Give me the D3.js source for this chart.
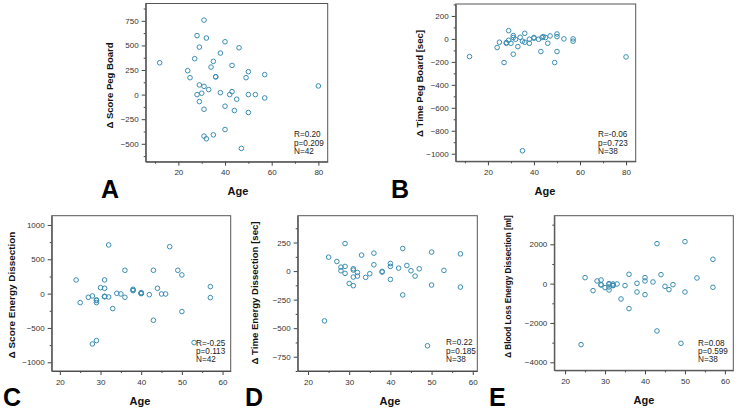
<!DOCTYPE html>
<html><head><meta charset="utf-8">
<script src="https://cdn.jsdelivr.net/npm/d3@7/dist/d3.min.js"></script>
<style>body{margin:0;background:#fff;} svg{display:block;}</style>
</head><body>
<svg id="c" width="742" height="414"></svg>
<script>
// Panel A: Δ Score Peg Board vs Age
const ageA = [31,28,32,40,29,46,38,12,27,35,34,43,24,50,57,25,36,36,49,29,31,33,38,43,42,28,30,50,53,45,57,80,29,40,31,44,50,40,31,32,35,47];
const scoreA = [757,600,575,537,483,476,422,324,365,338,280,297,243,233,203,172,182,180,172,98,84,51,20,30,0,0,14,0,0,-47,-34,88,-71,-118,-149,-162,-182,-355,-422,-449,-409,-547];
// Panel B: Δ Time Peg Board [sec] vs Age
const ageB = [12,29,36,31,31,32,29,28,25,24,27,31,33,30,28,34,35,36,38,38,40,40,42,43.5,44,45,46,47,43,49,50,50,50,53,57,57,80,35];
const timeB = [-154,72,49,29,12,-3,-12,-32,-29,-75,-206,-133,-67,-38,-38,14,-20,-29,-38,-3,6,12,-3,12,20,12,-38,26,-110,-206,-110,43,20,0,0,-20,-157,-974];
// Panel C: Δ Score Energy Dissection vs Age
const ageC = [24,25,27,28,29,29,28,29,30,31,31,31,31,32,32,33,34,35,36,36,38,38,40,40,40,42,43,43,44,45,46,47,49,50,50,53,57,57,40,31,38,29];
const scoreC = [199,-131,-53,-34,-92,-131,-733,-684,87,78,199,-39,-44,-49,709,-218,5,-5,-53,340,63,44,5,0,15,-15,340,-388,78,-5,-5,684,340,272,-262,-713,102,-58,5,-44,50,-100];
// Panel D: Δ Time Energy Dissection [sec] vs Age
const ageD = [25,27,28,28,29,29,29,30,31,31,31,31,32,32,33,34,35,36,36,38,38,40,40,40,42,43,43,44,45,46,47,49,50,50,53,57,57,24];
const timeD = [122,84,35,3,241,41,-20,-108,20,9,-52,-128,-12,-44,140,-55,-23,157,55,-3,-9,67,41,-73,26,198,-209,49,3,-44,20,-654,166,-122,6,151,-140,-436];
// Panel E: Δ Blood Loss Energy Dissection [ml] vs Age
const ageE = [24,25,27,28,29,29,30,31,31,31,32,32,33,35,34,36,36,38,38,40,40,40,42,43,43,44,45,46,47,49,50,50,53,57,57,29,31,32];
const bloodE = [-3102,305,-356,136,186,-68,-203,0,-322,-170,-17,-100,-17,-100,-780,475,-1271,17,-424,305,136,-560,85,2034,-2407,458,-136,-305,-51,-3034,2136,-424,288,1237,-186,-50,-30,-80];

const stats = {A:["R=0.20","p=0.209","N=42"],B:["R=-0.06","p=0.723","N=38"],C:["R=-0.25","p=0.113","N=42"],D:["R=0.22","p=0.185","N=38"],E:["R=0.08","p=0.599","N=38"]};
const xTicksAB = [20,40,60,80];
const xTicksCDE = [20,30,40,50,60];
const yTicksA = [-500,-250,0,250,500,750];
const yTicksB = [-1000,-800,-600,-400,-200,0,200];
const yTicksC = [-1000,-500,0,500,1000];
const yTicksD = [-750,-500,-250,0,250];
const yTicksE = [-4000,-2000,0,2000];

const panels = [
 {id:"A", xs:ageA, ys:scoreA, box:[145.7,3.5,327.7,161.7], xd:[6,84], yd:[-682,926], xt:xTicksAB, xm:10, yt:yTicksA, ym:125, ytitle:"\u0394 Score Peg Board", ytx:110.5, yty:85.5, ylen:86, agex:238, agey:195, letter:[101,198], stat:[294,135]},
 {id:"B", xs:ageB, ys:timeB, box:[455.7,4,635.7,161.3], xd:[6,84.2], yd:[-1066,304], xt:xTicksAB, xm:10, yt:yTicksB, ym:100, ytitle:"\u0394 Time Peg Board [sec]", ytx:420, yty:83.5, ylen:107, agex:545, agey:195, letter:[391,198], stat:[598,135]},
 {id:"C", xs:ageC, ys:scoreC, box:[51.7,215.7,230.7,371], xd:[18,62], yd:[-1127,1135], xt:xTicksCDE, xm:5, yt:yTicksC, ym:250, ytitle:"\u0394 Score Energy Dissection", ytx:12.5, yty:295, ylen:127, agex:140, agey:405, letter:[3,406], stat:[196,343.5]},
 {id:"D", xs:ageD, ys:timeD, box:[297.7,215.7,477.3,371], xd:[17.5,61.1], yd:[-875,485], xt:xTicksCDE, xm:5, yt:yTicksD, ym:125, ytitle:"\u0394 Time Energy Dissection [sec]", ytx:255, yty:293, ylen:143, agex:390, agey:405, letter:[245,406], stat:[446,343]},
 {id:"E", xs:ageE, ys:bloodE, box:[554.3,215.7,733.3,370.3], xd:[17.3,62.1], yd:[-4407,3455], xt:xTicksCDE, xm:5, yt:yTicksE, ym:1000, ytitle:"\u0394 Blood Loss Energy Dissection [ml]", ytx:509, yty:286.5, ylen:143, agex:644, agey:404, letter:[489,406], stat:[698,343.5]}
];

const svg = d3.select("#c");
const font = "Liberation Sans, Arial, sans-serif";
const fmt = d3.format("d");

panels.forEach(p => {
  const [x0,y0,x1,y1] = p.box;
  const x = d3.scaleLinear().domain(p.xd).range([x0,x1]);
  const y = d3.scaleLinear().domain(p.yd).range([y1,y0]);
  const g = svg.append("g");

  const xMinor = d3.range(Math.ceil(p.xd[0]/p.xm)*p.xm, p.xd[1]+0.001, p.xm).filter(v => !p.xt.includes(v));
  const yMinor = d3.range(Math.ceil(p.yd[0]/p.ym)*p.ym, p.yd[1]+0.001, p.ym).filter(v => !p.yt.includes(v));

  g.append("g").attr("transform",`translate(0,${y1})`)
    .call(d3.axisBottom(x).tickValues(p.xt).tickFormat(fmt).tickSize(4).tickPadding(4).tickSizeOuter(0));
  g.append("g").attr("transform",`translate(0,${y1})`)
    .call(d3.axisBottom(x).tickValues(xMinor).tickSize(2).tickFormat("").tickSizeOuter(0))
    .call(s=>s.select(".domain").remove());
  g.append("g").attr("transform",`translate(${x0},0)`)
    .call(d3.axisLeft(y).tickValues(p.yt).tickFormat(fmt).tickSize(4).tickPadding(3).tickSizeOuter(0));
  g.append("g").attr("transform",`translate(${x0},0)`)
    .call(d3.axisLeft(y).tickValues(yMinor).tickSize(2).tickFormat("").tickSizeOuter(0))
    .call(s=>s.select(".domain").remove());

  g.selectAll(".tick line").attr("stroke","#444");
  g.selectAll(".domain").attr("stroke","#444");
  g.selectAll(".tick text").attr("font-family",font).attr("font-size","8px").attr("fill","#333");

  g.append("rect").attr("x",x0).attr("y",y0).attr("width",x1-x0).attr("height",y1-y0)
    .attr("fill","none").attr("stroke","#555").attr("stroke-width",1);

  g.selectAll("circle.pt").data(p.xs.map((v,i)=>[v,p.ys[i]])).join("circle")
    .attr("class","pt").attr("cx",d=>x(d[0])).attr("cy",d=>y(d[1])).attr("r",2.3)
    .attr("fill","none").attr("stroke","#3a8db3").attr("stroke-width",1);

  stats[p.id].forEach((t,i)=>{
    g.append("text").attr("x",p.stat[0]).attr("y",p.stat[1]+i*8.4).attr("font-family",font)
      .attr("font-size","8.2px").attr("fill","#222").attr("dominant-baseline","middle").text(t);
  });

  g.append("text").attr("x",p.agex).attr("y",p.agey).attr("text-anchor","middle")
    .attr("font-family",font).attr("font-weight","bold").attr("font-size","11px").attr("fill","#111").text("Age");
  const yt = g.append("text").attr("transform",`translate(${p.ytx},${p.yty}) rotate(-90)`).attr("text-anchor","middle")
    .attr("dominant-baseline","middle").attr("font-family",font).attr("font-weight","bold").attr("font-size","10px").attr("fill","#111").text(p.ytitle);
  const len = yt.node().getComputedTextLength();
  yt.attr("font-size", (10*p.ylen/len).toFixed(2)+"px");

  g.append("text").attr("x",p.letter[0]).attr("y",p.letter[1]).attr("font-family",font)
    .attr("font-weight","bold").attr("font-size","25px").attr("fill","#000").text(p.id);
});
</script>
</body></html>
